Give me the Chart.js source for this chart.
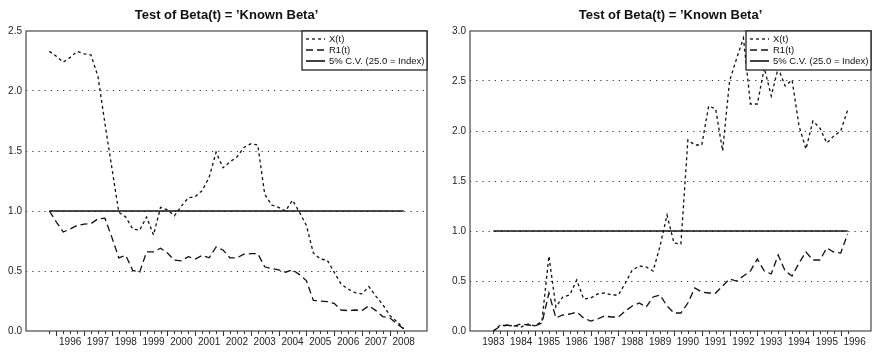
<!DOCTYPE html>
<html>
<head>
<meta charset="utf-8">
<script src="https://cdn.jsdelivr.net/npm/chart.js@4.4.0/dist/chart.umd.min.js"></script>
<style>
  html, body { margin: 0; padding: 0; background: #fff; }
  #wrap { position: relative; width: 874px; height: 353px; }
  canvas { position: absolute; top: 0; }
</style>
</head>
<body>
<div id="wrap">
  <canvas id="left" width="437" height="353" style="left:0"></canvas>
  <canvas id="right" width="437" height="353" style="left:437px"></canvas>
</div>
<script>
const chartTitle = 'Test of Beta(t) = ’Known Beta’';
const seriesNames = ['X(t)', 'R1(t)', '5% C.V. (25.0 = Index)'];
const cvLevel = 1.0;

// left panel, quarterly from 1995:4
const leftStart = [1995, 4];
const leftX = [2.33, 2.29, 2.24, 2.28, 2.33, 2.31, 2.30, 2.12, 1.73, 1.36,
  0.99, 0.95, 0.85, 0.84, 0.95, 0.80, 1.03, 1.01, 0.96, 1.04,
  1.11, 1.12, 1.17, 1.28, 1.49, 1.36, 1.41, 1.45, 1.53, 1.56,
  1.55, 1.14, 1.05, 1.03, 1.00, 1.09, 0.99, 0.88, 0.65, 0.60,
  0.59, 0.49, 0.39, 0.35, 0.32, 0.31, 0.37, 0.29, 0.22, 0.13,
  0.08, 0.02];
const leftR1 = [1.00, 0.91, 0.825, 0.85, 0.88, 0.89, 0.895, 0.935, 0.94, 0.78,
  0.61, 0.63, 0.505, 0.49, 0.66, 0.66, 0.69, 0.65, 0.59, 0.585,
  0.62, 0.60, 0.63, 0.61, 0.70, 0.675, 0.61, 0.61, 0.64, 0.645,
  0.645, 0.535, 0.52, 0.51, 0.49, 0.51, 0.47, 0.42, 0.255, 0.25,
  0.245, 0.23, 0.175, 0.17, 0.175, 0.17, 0.21, 0.17, 0.12, 0.11,
  0.06, 0.02];
const leftYears = [1996, 1997, 1998, 1999, 2000, 2001, 2002, 2003, 2004, 2005, 2006, 2007, 2008];
const leftYTicks = [0, 0.5, 1.0, 1.5, 2.0, 2.5];

// right panel, quarterly from 1983:3
const rightStart = [1983, 3];
const rightX = [0.00, 0.06, 0.05, 0.055, 0.04, 0.07, 0.05, 0.10, 0.75, 0.24,
  0.34, 0.36, 0.51, 0.32, 0.33, 0.37, 0.38, 0.36, 0.36, 0.48,
  0.61, 0.65, 0.64, 0.60, 0.85, 1.16, 0.88, 0.87, 1.91, 1.86,
  1.86, 2.25, 2.22, 1.80, 2.50, 2.72, 2.93, 2.27, 2.27, 2.63,
  2.35, 2.63, 2.45, 2.51, 2.05, 1.82, 2.10, 2.03, 1.88, 1.95,
  2.00, 2.21];
const rightR1 = [0.00, 0.05, 0.06, 0.05, 0.07, 0.06, 0.05, 0.08, 0.38, 0.13,
  0.16, 0.17, 0.19, 0.13, 0.10, 0.12, 0.15, 0.14, 0.14, 0.20,
  0.25, 0.28, 0.24, 0.34, 0.36, 0.25, 0.18, 0.18, 0.28, 0.43,
  0.39, 0.38, 0.38, 0.45, 0.52, 0.50, 0.55, 0.60, 0.72, 0.60,
  0.57, 0.76, 0.60, 0.55, 0.68, 0.79, 0.71, 0.71, 0.83, 0.79,
  0.78, 0.97];
const rightYears = [1983, 1984, 1985, 1986, 1987, 1988, 1989, 1990, 1991, 1992, 1993, 1994, 1995, 1996];
const rightYTicks = [0, 0.5, 1.0, 1.5, 2.0, 2.5, 3.0];

Chart.defaults.font.family = "'Liberation Sans', Arial, Helvetica, sans-serif";
Chart.defaults.color = '#222';

function quarterDates(start, n) {
    let out = [];
    for (let i = 0; i < n; i++) {
        out.push(start[0] + (start[1] - 1 + i) / 4);
    }
    return out;
}

// frame, title, quarter tick marks and the boxed legend
const decorPlugin = {
    id: 'decor',
    beforeDatasetsDraw(chart) {
        const a = chart.chartArea;
        const ctx = chart.ctx;
        ctx.save();
        ctx.strokeStyle = '#555';
        ctx.lineWidth = 1.3;
        ctx.strokeRect(a.left, a.top, a.right - a.left, a.bottom - a.top);
        ctx.restore();
    },
    afterDatasetsDraw(chart) {
        const a = chart.chartArea;
        const ctx = chart.ctx;
        const xs = chart.scales.x;
        const dates = chart.options.plugins.decor.dates;

        ctx.save();
        // title
        ctx.fillStyle = '#111';
        ctx.font = "bold 13px 'Liberation Sans', Arial, sans-serif";
        ctx.textAlign = 'center';
        ctx.textBaseline = 'middle';
        ctx.fillText(chartTitle, (a.left + a.right) / 2, 15);

        // quarter ticks, longer at year starts
        ctx.strokeStyle = '#333';
        ctx.lineWidth = 1;
        dates.forEach((d) => {
            const px = Math.round(xs.getPixelForValue(d)) + 0.5;
            const major = Math.abs(d - Math.round(d)) < 1e-6;
            ctx.beginPath();
            ctx.moveTo(px, a.bottom);
            ctx.lineTo(px, a.bottom + (major ? 5 : 3));
            ctx.stroke();
        });

        // legend box in the top right corner
        const w = 125, h = 39;
        const lx = a.right - w, ly = a.top;
        ctx.fillStyle = '#fff';
        ctx.fillRect(lx, ly, w, h);
        ctx.strokeStyle = '#111';
        ctx.lineWidth = 1.2;
        ctx.strokeRect(lx, ly, w, h);
        ctx.font = "9.5px 'Liberation Sans', Arial, sans-serif";
        ctx.textAlign = 'left';
        ctx.textBaseline = 'middle';
        chart.data.datasets.forEach((ds, i) => {
            const yy = ly + 8 + i * 11;
            ctx.strokeStyle = '#111';
            ctx.lineWidth = ds.borderWidth;
            ctx.setLineDash(ds.borderDash || []);
            ctx.beginPath();
            ctx.moveTo(lx + 4, yy);
            ctx.lineTo(lx + 23, yy);
            ctx.stroke();
            ctx.setLineDash([]);
            ctx.fillStyle = '#111';
            ctx.fillText(ds.label, lx + 27, yy);
        });
        ctx.restore();
    }
};

function makeChart(id, start, xVals, r1Vals, years, yTicks, axisW, padRight) {
    const dates = quarterDates(start, xVals.length);
    const first = dates[0], last = dates[dates.length - 1];
    const padYears = 0.84;

    const datasets = [
        {
            label: seriesNames[0],
            data: dates.map((d, i) => ({x: d, y: xVals[i]})),
            borderColor: '#111',
            borderWidth: 1.3,
            borderDash: [3, 3]
        },
        {
            label: seriesNames[1],
            data: dates.map((d, i) => ({x: d, y: r1Vals[i]})),
            borderColor: '#111',
            borderWidth: 1.3,
            borderDash: [7, 4]
        },
        {
            label: seriesNames[2],
            data: [{x: first, y: cvLevel}, {x: last, y: cvLevel}],
            borderColor: '#111',
            borderWidth: 1.6,
            borderDash: []
        }
    ];

    const yMax = yTicks[yTicks.length - 1];

    return new Chart(document.getElementById(id), {
        type: 'line',
        data: {datasets: datasets},
        options: {
            responsive: false,
            animation: false,
            devicePixelRatio: 1,
            layout: {padding: {top: 31, right: padRight, bottom: 0, left: 0}},
            elements: {
                point: {radius: 0},
                line: {tension: 0, fill: false}
            },
            scales: {
                x: {
                    type: 'linear',
                    min: first - padYears,
                    max: last + padYears,
                    afterBuildTicks: (scale) => {
                        scale.ticks = years.map((y) => ({value: y + 0.5}));
                    },
                    afterFit: (scale) => { scale.height = 22; },
                    ticks: {
                        autoSkip: false,
                        maxRotation: 0,
                        padding: 5,
                        font: {size: 10},
                        callback: (v) => String(Math.floor(v))
                    },
                    grid: {display: false, drawTicks: false},
                    border: {display: false}
                },
                y: {
                    min: 0,
                    max: yMax,
                    afterBuildTicks: (scale) => {
                        scale.ticks = yTicks.map((v) => ({value: v}));
                    },
                    afterFit: (scale) => { scale.width = axisW; },
                    ticks: {
                        padding: 4,
                        font: {size: 10},
                        callback: (v) => Number(v).toFixed(1)
                    },
                    grid: {
                        drawTicks: false,
                        lineWidth: 1,
                        color: (c) => (c.tick && (c.tick.value === 0 || c.tick.value === yMax)) ? 'rgba(0,0,0,0)' : '#333'
                    },
                    border: {display: false, dash: [1.2, 5]}
                }
            },
            plugins: {
                legend: {display: false},
                title: {display: false},
                tooltip: {enabled: false},
                decor: {dates: dates}
            }
        },
        plugins: [decorPlugin]
    });
}

makeChart('left', leftStart, leftX, leftR1, leftYears, leftYTicks, 26, 10);
makeChart('right', rightStart, rightX, rightR1, rightYears, rightYTicks, 33, 3);
</script>
</body>
</html>
